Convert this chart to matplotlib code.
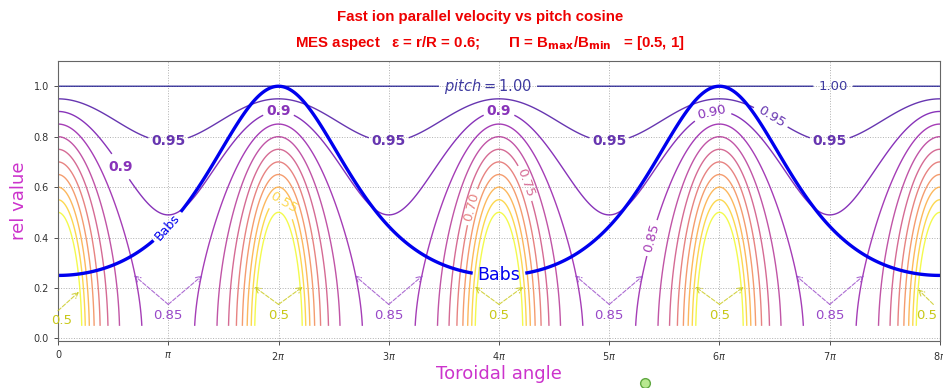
import numpy as np
import matplotlib
matplotlib.use("Agg")
import matplotlib.pyplot as plt
from matplotlib.lines import Line2D

eps = 0.6                      # r/R from the title
babs_d = 1.0 / 3.0             # Babs goes from 0.25 (at 0) to 1.0 (at 2pi)
pitch_levels = [0.5, 0.55, 0.6, 0.65, 0.7, 0.75, 0.8, 0.85, 0.9, 0.95, 1.0]
xtick_mult = [0, 1, 2, 3, 4, 5, 6, 7, 8]
xtick_labels = ['0', r'$\pi$', r'$2\pi$', r'$3\pi$', r'$4\pi$',
                r'$5\pi$', r'$6\pi$', r'$7\pi$', r'$8\pi$']
yticks = [0.0, 0.2, 0.4, 0.6, 0.8, 1.0]
ann85_mult = [1, 3, 5, 7]      # "0.85" arrow annotations (in units of pi)
ann05_mult = [2, 4, 6]         # "0.5" arrow annotations

# contour labels: level, x (in pi), y, text, bold
label_level = [0.95, 0.95, 0.95, 0.95, 0.9, 0.9, 0.9,
               0.55, 0.7, 0.75, 0.85, 0.9, 0.95, 1.0, 1.0]
label_xpi = [1.0, 3.0, 5.0, 7.0, 0.6, 2.0, 4.0,
             2.05, 3.67, 4.27, 5.37, 5.93, 6.47, 7.03, 3.9]
label_y = [0.78, 0.78, 0.78, 0.78, 0.69, 0.9, 0.9,
           0.54, 0.53, 0.62, 0.4, 0.9, 0.88, 1.0, 1.0]
label_text = ['0.95', '0.95', '0.95', '0.95', '0.9', '0.9', '0.9',
              '0.55', '0.70', '0.75', '0.85', '0.90', '0.95', '1.00',
              r'$pitch = 1.00$']
label_bold = [1, 1, 1, 1, 1, 1, 1, 0, 0, 0, 0, 0, 0, 0, 0]

# ---- grid ----
x = np.linspace(0, 8 * np.pi, 1601)
y = np.linspace(0.05, 1.1, 601)
X, Y = np.meshgrid(x, y)

ratio = (1 - eps) / (1 - eps * np.cos(X))          # B(x)/B(0)
pitch = np.sqrt(1 - (1 - Y**2) * ratio)
babs = ((1 - babs_d) / (1 + babs_d * np.cos(X / 2)))**2

fig = plt.figure(figsize=(9.43, 3.88), dpi=100)
ax = fig.add_axes([58 / 943, 47 / 388, 882 / 943, 280 / 388])

cmap = plt.get_cmap('plasma_r')
norm = plt.Normalize(min(pitch_levels), max(pitch_levels))
csets = {}
for lev in pitch_levels:
    csets[lev] = ax.contour(X, Y, pitch, levels=[lev],
                            colors=[cmap(norm(lev))], linewidths=1.0,
                            alpha=0.8)
bcs = ax.contour(X, Y, Y - babs, levels=[0.0], colors='#0000ee',
                 linewidths=2.4)

P = np.pi
for lev, xp, yv, txt, bold in zip(label_level, label_xpi, label_y,
                                  label_text, label_bold):
    fs = 10 if bold else 9.5
    if txt.startswith('$'):
        fs = 10.5
    labs = csets[lev].clabel(fontsize=fs, inline=True, fmt={lev: txt},
                             manual=[(xp * P, yv)])
    if bold:
        labs[-1].set_rotation(0)
        labs[-1].set_fontweight('bold')

bcs.clabel(fontsize=9, inline=True, fmt={0.0: 'Babs'},
           manual=[(0.95 * P, 0.46)])
bcs.clabel(fontsize=12.5, inline=True, fmt={0.0: 'Babs'},
           manual=[(4.0 * P, 0.25)])

# arrow annotations
c85 = '#9848c8'
c05 = '#c8c818'
arrow = dict(arrowstyle='->', ls='--', lw=0.8, alpha=0.8, shrinkA=0,
             shrinkB=0)
for k in ann85_mult:
    ax.text(k * P, 0.09, '0.85', color=c85, fontsize=9.5, ha='center',
            va='center')
    for dx in (-0.31, 0.31):
        ax.annotate('', xy=((k + dx) * P, 0.25), xytext=(k * P, 0.135),
                    arrowprops=dict(arrow, color=c85))
for k in ann05_mult:
    ax.text(k * P, 0.09, '0.5', color=c05, fontsize=9.5, ha='center',
            va='center')
    for dx in (-0.22, 0.22):
        ax.annotate('', xy=((k + dx) * P, 0.205), xytext=(k * P, 0.135),
                    arrowprops=dict(arrow, color=c05))
# the two at the edges
ax.text(0.03 * P, 0.07, '0.5', color=c05, fontsize=9.5, ha='center',
        va='center')
ax.annotate('', xy=(0.19 * P, 0.185), xytext=(0.0, 0.11),
            arrowprops=dict(arrow, color=c05))
ax.text(7.88 * P, 0.09, '0.5', color=c05, fontsize=9.5, ha='center',
        va='center')
ax.annotate('', xy=(7.8 * P, 0.195), xytext=(7.94 * P, 0.135),
            arrowprops=dict(arrow, color=c05))

# axes
ax.set_xlim(0, 8 * P)
ax.set_ylim(-0.01, 1.1)
ax.set_xticks([k * P for k in xtick_mult])
ax.set_xticklabels(xtick_labels)
ax.set_yticks(yticks)
ax.set_yticklabels(['%.1f' % v for v in yticks])
ax.tick_params(labelsize=7, length=3, width=0.6, colors='#333333')
ax.grid(True, ls=':', lw=0.7, color='#b0b0b0')
for s in ax.spines.values():
    s.set_color('#666666')
    s.set_linewidth(0.8)

ax.set_xlabel('Toroidal angle', color='#cc33cc', fontsize=13, labelpad=2)
ax.set_ylabel('rel value', color='#cc33cc', fontsize=13, labelpad=4)

# title (two red lines)
tfont = ['Liberation Sans', 'DejaVu Sans']
fig.text(0.509, 0.956, 'Fast ion parallel velocity vs pitch cosine',
         color='#ee0000', fontsize=10.8, fontweight='bold', ha='center',
         va='center', family=tfont)
fig.text(0.52, 0.889,
         r'MES aspect   ε = r/R = 0.6;       Π = B$_{\mathbf{max}}$/B$_{\mathbf{min}}$   = [0.5, 1]',
         color='#ee0000', fontsize=10.8, fontweight='bold', ha='center',
         va='center', family=tfont)

# small green circle at the bottom of the screenshot
fig.add_artist(Line2D([645 / 943], [5 / 388], marker='o', ms=7,
                      mfc='#b8e890', mec='#60a840', mew=1,
                      transform=fig.transFigure))

fig.savefig('out.png', dpi=100)
